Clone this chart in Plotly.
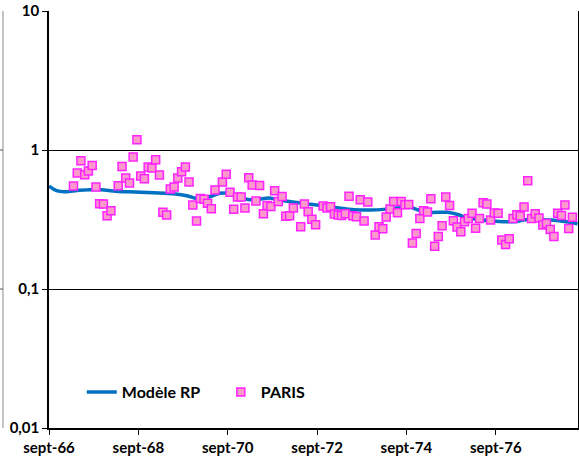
import plotly.graph_objects as go

# ---- data ----
paris_months = [
    "1967-03", "1967-04", "1967-05", "1967-06", "1967-07", "1967-08", "1967-09", "1967-10", "1967-11", "1967-12",
    "1968-01", "1968-03", "1968-04", "1968-05", "1968-06", "1968-07", "1968-08", "1968-09", "1968-10", "1968-11", "1968-12",
    "1969-01", "1969-02", "1969-03", "1969-04", "1969-05", "1969-06", "1969-07", "1969-08", "1969-09", "1969-10", "1969-11", "1969-12",
    "1970-01", "1970-02", "1970-03", "1970-04", "1970-05", "1970-07", "1970-08", "1970-09", "1970-10", "1970-11", "1970-12",
    "1971-01", "1971-02", "1971-03", "1971-04", "1971-05", "1971-06", "1971-07", "1971-08", "1971-09", "1971-10", "1971-11", "1971-12",
    "1972-01", "1972-02", "1972-04", "1972-05", "1972-06", "1972-07", "1972-08", "1972-10", "1972-11", "1972-12",
    "1973-01", "1973-02", "1973-03", "1973-04", "1973-05", "1973-06", "1973-07", "1973-08", "1973-09", "1973-10", "1973-12",
    "1974-01", "1974-02", "1974-03", "1974-04", "1974-05", "1974-06", "1974-07", "1974-08", "1974-09", "1974-10", "1974-11", "1974-12",
    "1975-01", "1975-02", "1975-03", "1975-04", "1975-05", "1975-06", "1975-07", "1975-08", "1975-09", "1975-10", "1975-11", "1975-12",
    "1976-01", "1976-02", "1976-03", "1976-04", "1976-05", "1976-06", "1976-07", "1976-08", "1976-09", "1976-10", "1976-11", "1976-12",
    "1977-01", "1977-02", "1977-03", "1977-04", "1977-05", "1977-06", "1977-07", "1977-08", "1977-09", "1977-10", "1977-11", "1977-12",
    "1978-01", "1978-02", "1978-03", "1978-04", "1978-05",
]
paris_values = [
    0.551, 0.683, 0.838, 0.664, 0.706, 0.775, 0.542, 0.411, 0.409, 0.337,
    0.366, 0.553, 0.762, 0.629, 0.579, 0.891, 1.186, 0.650, 0.622, 0.755, 0.742,
    0.852, 0.661, 0.356, 0.341, 0.524, 0.542, 0.629, 0.698, 0.755, 0.589, 0.402, 0.308,
    0.448, 0.443, 0.414, 0.378, 0.516, 0.589, 0.670, 0.497, 0.375, 0.460, 0.459,
    0.383, 0.632, 0.561, 0.430, 0.555, 0.348, 0.398, 0.392, 0.510, 0.426, 0.463, 0.334,
    0.336, 0.383, 0.280, 0.409, 0.360, 0.317, 0.290, 0.396, 0.383, 0.391,
    0.347, 0.341, 0.338, 0.348, 0.464, 0.337, 0.331, 0.438, 0.309, 0.423, 0.245,
    0.281, 0.271, 0.330, 0.377, 0.426, 0.353, 0.426, 0.403, 0.406, 0.214, 0.251, 0.322,
    0.366, 0.358, 0.446, 0.203, 0.239, 0.285, 0.460, 0.398, 0.310, 0.279, 0.258, 0.305,
    0.322, 0.350, 0.273, 0.322, 0.418, 0.409, 0.314, 0.352, 0.350, 0.225, 0.209, 0.230,
    0.322, 0.342, 0.335, 0.389, 0.601, 0.322, 0.348, 0.324, 0.289, 0.296, 0.268, 0.239,
    0.350, 0.338, 0.402, 0.272, 0.328,
]

model_months = [
    "1966-09", "1966-11", "1967-01", "1967-04", "1967-08", "1967-11", "1968-03", "1968-08",
    "1969-01", "1969-07", "1969-10", "1970-01", "1970-03", "1970-05", "1970-07", "1970-10",
    "1970-12", "1971-03", "1971-06", "1971-08", "1971-11", "1972-03", "1972-07", "1972-11",
    "1973-03", "1973-07", "1973-11", "1974-03", "1974-07", "1974-09", "1974-12", "1975-03",
    "1975-08", "1975-11", "1976-01", "1976-05", "1976-07", "1976-11", "1977-02", "1977-05",
    "1977-09", "1977-12", "1978-04", "1978-07",
]
model_values = [
    0.549, 0.510, 0.501, 0.510, 0.518, 0.518, 0.505, 0.499,
    0.493, 0.483, 0.469, 0.446, 0.454, 0.469, 0.489, 0.485,
    0.461, 0.439, 0.444, 0.452, 0.435, 0.421, 0.407, 0.398,
    0.383, 0.372, 0.370, 0.374, 0.385, 0.394, 0.372, 0.356,
    0.356, 0.342, 0.326, 0.315, 0.310, 0.305, 0.305, 0.315,
    0.315, 0.313, 0.305, 0.295,
]

tick_dates = ["1966-09-01", "1968-09-01", "1970-09-01", "1972-09-01", "1974-09-01", "1976-09-01"]
tick_labels = ["sept-66", "sept-68", "sept-70", "sept-72", "sept-74", "sept-76"]
y_ticks = [0.01, 0.1, 1, 10]
y_labels = ["0,01", "0,1", "1", "10"]

FONT = "Lato"

fig = go.Figure()
fig.add_trace(go.Scatter(
    x=[m + "-01" for m in model_months], y=model_values, mode="lines",
    name="Modèle RP", line=dict(color="#0070C0", width=3.5, shape="spline", smoothing=1.0),
))
fig.add_trace(go.Scatter(
    x=[m + "-20" for m in paris_months], y=paris_values, mode="markers",
    name="PARIS",
    marker=dict(symbol="square", size=8, color="#FF99CC", line=dict(color="#FF22FF", width=1.5)),
))

fig.update_layout(
    width=579, height=461,
    margin=dict(l=49, r=1, t=11, b=33, autoexpand=False),
    paper_bgcolor="white", plot_bgcolor="white",
    font=dict(family=FONT, size=14, color="black", weight="bold"),
    showlegend=True,
    legend=dict(orientation="h", x=0.062, y=0.086, xanchor="left", yanchor="middle",
                bgcolor="rgba(0,0,0,0)", font=dict(family=FONT, size=16, weight="bold"),
                entrywidthmode="pixels", entrywidth=94),
    xaxis=dict(
        type="date", range=["1966-09-01", "1978-07-05"], automargin=False,
        tickvals=tick_dates, ticktext=tick_labels,
        showgrid=False, showline=True, linecolor="black", linewidth=1.5,
        ticks="outside", ticklen=5, tickcolor="black",
        tickfont=dict(family=FONT, size=15, weight="bold"),
    ),
    yaxis=dict(
        type="log", range=[-2, 1], automargin=False,
        tickvals=y_ticks, ticktext=y_labels,
        showgrid=True, gridcolor="black", gridwidth=1,
        showline=True, linecolor="black", linewidth=1.5, mirror=True,
        ticks="outside", ticklen=5, tickcolor="black",
        tickfont=dict(family=FONT, size=15, weight="bold"),
    ),
    shapes=[
        dict(type="line", xref="paper", yref="paper", x0=-0.087, x1=-0.087, y0=0.0, y1=1.0,
             line=dict(color="#888888", width=1)),
        dict(type="line", xref="paper", yref="y", x0=-0.093, x1=-0.087, y0=1, y1=1,
             line=dict(color="#555555", width=1)),
        dict(type="line", xref="paper", yref="y", x0=-0.093, x1=-0.087, y0=0.1, y1=0.1,
             line=dict(color="#555555", width=1)),
    ],
)

fig.write_html("out.html", config={"displayModeBar": False},
               post_script="document.body.style.margin='0';")
